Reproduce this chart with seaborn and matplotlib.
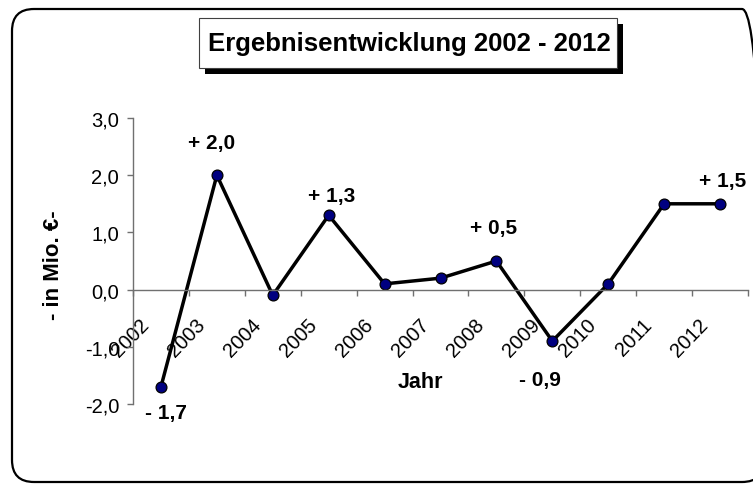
import numpy as np
import pandas as pd
import matplotlib
matplotlib.use("Agg")
import matplotlib.pyplot as plt
import matplotlib.transforms as mtransforms
from matplotlib.patches import Rectangle, FancyBboxPatch
import seaborn as sns

# data
years = ["2002", "2003", "2004", "2005", "2006", "2007", "2008", "2009", "2010", "2011", "2012"]
values = [-1.7, 2.0, -0.1, 1.3, 0.1, 0.2, 0.5, -0.9, 0.1, 1.5, 1.5]
point_labels = ["- 1,7", "+ 2,0", "", "+ 1,3", "", "", "+ 0,5", "- 0,9", "", "", "+ 1,5"]
y_ticks = [-2.0, -1.0, 0.0, 1.0, 2.0, 3.0]

# label offsets in pixels (dx, dy) relative to the point
label_offsets = {0: (5, -26), 1: (-5, 33), 3: (3, 20), 6: (-3, 33), 7: (-12, -38), 10: (3, 23)}

sns.set_theme(style="white")
plt.rcParams["font.family"] = ["Liberation Sans", "DejaVu Sans"]
plt.rcParams["text.color"] = "black"

GRAY = "#707070"

fig = plt.figure(figsize=(7.53, 4.85), dpi=100)
W, H = 753, 485
ax = fig.add_axes([133 / W, 1 - 405 / H, 615 / W, 286 / H])

df = pd.DataFrame({"pos": np.arange(len(years)), "Ergebnis": values})
sns.lineplot(data=df, x="pos", y="Ergebnis", ax=ax, color="black", linewidth=2.5,
             marker="o", markersize=7.8, markerfacecolor="#000080",
             markeredgecolor="black", markeredgewidth=0.9, legend=False)

ax.set_xlim(-0.5, len(years) - 0.5)
ax.set_ylim(-2, 3)

# axes styling
for side in ["top", "right"]:
    ax.spines[side].set_visible(False)
ax.spines["bottom"].set_position(("data", 0))
ax.spines["bottom"].set_color(GRAY)
ax.spines["left"].set_color(GRAY)
ax.spines["bottom"].set_linewidth(1)
ax.spines["left"].set_linewidth(1)

ax.set_yticks(y_ticks)
ax.set_yticklabels([f"{v:.1f}".replace(".", ",") for v in y_ticks], fontsize=14.5)
ax.tick_params(axis="y", direction="out", length=4, width=1, color=GRAY, labelcolor="black",
               pad=6, left=True)

ax.set_xticks(np.arange(len(years)))
ax.set_xticklabels(years, fontsize=14.5)
ax.set_xticks(np.arange(-0.5, len(years), 1), minor=True)
ax.tick_params(axis="x", which="major", length=0, pad=23, bottom=True, labelcolor="black")
ax.tick_params(axis="x", which="minor", direction="out", length=4, width=1, color=GRAY, bottom=True)
shift = mtransforms.ScaledTranslation(-0.15, 0, fig.dpi_scale_trans)
for lab in ax.get_xticklabels():
    lab.set_rotation(46)
    lab.set_ha("right")
    lab.set_va("center")
    lab.set_rotation_mode("anchor")
    lab.set_transform(lab.get_transform() + shift)

ax.grid(False)
ax.set_facecolor("none")

ax.set_ylabel("- in Mio. €-", fontsize=16, fontweight="bold", color="black")
ax.yaxis.set_label_coords(-0.113, 0.49)
ax.set_xlabel("Jahr", fontsize=15.5, fontweight="bold", color="black")
ax.xaxis.set_label_coords(0.468, 0.115)

for i, txt in enumerate(point_labels):
    if not txt:
        continue
    dx, dy = label_offsets[i]
    ax.annotate(txt, xy=(i, values[i]), xytext=(dx, dy), textcoords="offset pixels",
                ha="center", va="center", fontsize=15, fontweight="bold", color="black")

# outer rounded frame (inches)
frame = FancyBboxPatch((0.12, 0.02), 7.52, 4.73, boxstyle="round,pad=0,rounding_size=0.22",
                       transform=fig.dpi_scale_trans, facecolor="none", edgecolor="black",
                       linewidth=1.6, clip_on=False)
fig.patches.append(frame)

# title box with drop shadow
bx, by, bw, bh = 1.99, (H - 69) / 100, 4.18, 0.50
fig.patches.append(Rectangle((bx + 0.06, by - 0.06), bw, bh, transform=fig.dpi_scale_trans,
                             facecolor="black", edgecolor="black", linewidth=0))
fig.patches.append(Rectangle((bx, by), bw, bh, transform=fig.dpi_scale_trans,
                             facecolor="white", edgecolor="#404040", linewidth=0.8))
fig.text(4.09, (H - 51) / 100, "Ergebnisentwicklung 2002 - 2012", transform=fig.dpi_scale_trans,
         ha="center", va="baseline", fontsize=18.5, fontweight="bold")

fig.savefig("out.png", dpi=100)
